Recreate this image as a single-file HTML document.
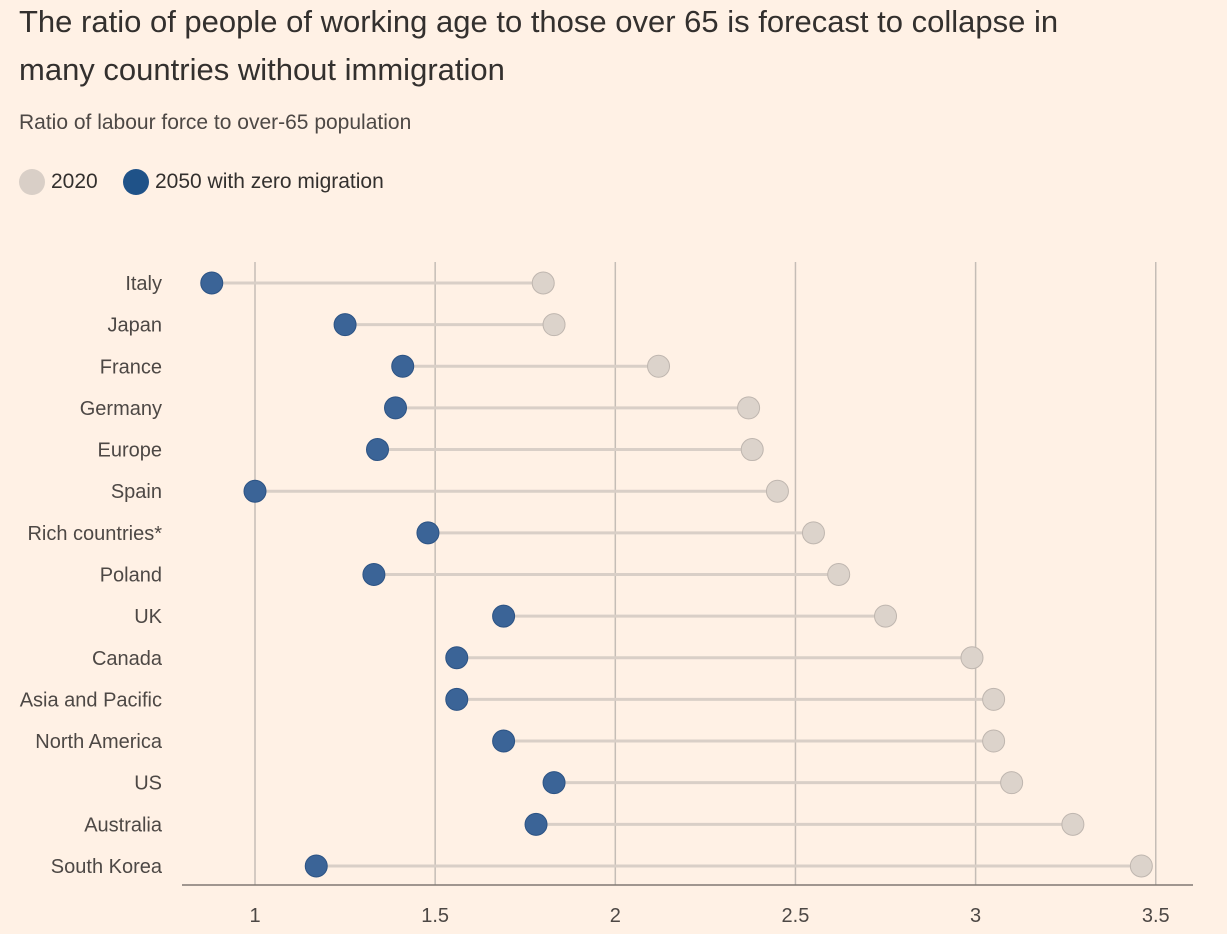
<!DOCTYPE html>
<html><head><meta charset="utf-8"><style>
body{margin:0;background:#fff1e5;font-family:"Liberation Sans",sans-serif;color:#33302e}
#wrap{position:relative;width:1227px;height:934px;overflow:hidden}
h1{position:absolute;left:19px;top:-2px;margin:0;font-size:31px;font-weight:normal;line-height:48px;width:1095px}
.sub{position:absolute;left:19px;top:111px;font-size:21px;color:#4d4845}
.leg{position:absolute;top:169px;font-size:21px;display:flex;align-items:center}
.dot{width:26px;height:26px;border-radius:50%;display:inline-block;margin-right:6px}
svg{position:absolute;left:0;top:0}
</style></head><body><div id="wrap">
<h1>The ratio of people of working age to those over 65 is forecast to collapse in many countries without immigration</h1>
<div class="sub">Ratio of labour force to over-65 population</div>
<div class="leg" style="left:19px"><span class="dot" style="background:#d9cfc7"></span>2020</div>
<div class="leg" style="left:123px"><span class="dot" style="background:#1f5288"></span>2050 with zero migration</div>
<svg id="chart" width="1227" height="934"></svg>
</div>
<script>
const categories=["Italy","Japan","France","Germany","Europe","Spain","Rich countries*","Poland","UK","Canada","Asia and Pacific","North America","US","Australia","South Korea"];
const values2020=[1.80,1.83,2.12,2.37,2.38,2.45,2.55,2.62,2.75,2.99,3.05,3.05,3.10,3.27,3.46];
const values2050=[0.88,1.25,1.41,1.39,1.34,1.00,1.48,1.33,1.69,1.56,1.56,1.69,1.83,1.78,1.17];
const ticks=[1,1.5,2,2.5,3,3.5];
const svg=document.getElementById('chart');const NS='http://www.w3.org/2000/svg';
const x=v=>255+(v-1)*360.3;
const y=i=>283+i*41.64;
function mk(t,a){const e=document.createElementNS(NS,t);for(const k in a)e.setAttribute(k,a[k]);svg.appendChild(e);return e;}
ticks.forEach(t=>{
const g=mk('line',{x1:x(t),x2:x(t),y1:262,y2:885,stroke:'#c5bdb6','stroke-width':1.5});


const l=mk('text',{x:x(t),y:922,'text-anchor':'middle','font-size':20,fill:'#4d4845'});l.textContent=t;


});
const ax=mk('line',{x1:182,x2:1193,y1:885,y2:885,stroke:'#807973','stroke-width':1.5});


categories.forEach((c,i)=>{
const t=mk('text',{x:162,y:y(i)+7,'text-anchor':'end','font-size':20,fill:'#4d4845'});t.textContent=c;


const ln=mk('line',{x1:x(values2050[i]),x2:x(values2020[i]),y1:y(i),y2:y(i),stroke:'#d9cfc7','stroke-width':3});


const a=mk('circle',{cx:x(values2020[i]),cy:y(i),r:11,fill:'#dcd3cb',stroke:'#bfb6af','stroke-width':1});


const b=mk('circle',{cx:x(values2050[i]),cy:y(i),r:11,fill:'#3b6497',stroke:'#2c5384','stroke-width':1});


});
</script></body></html>
